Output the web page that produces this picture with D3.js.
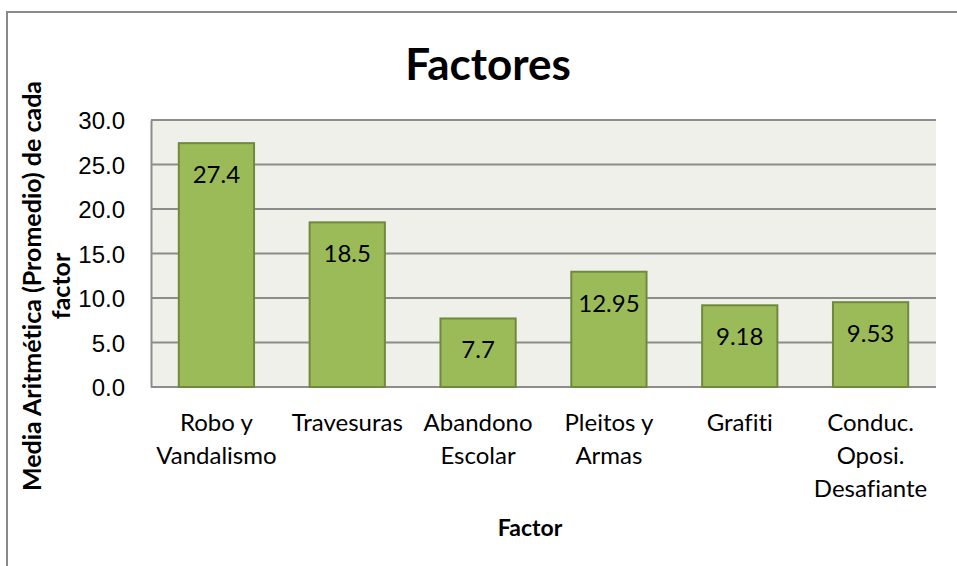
<!DOCTYPE html>
<html>
<head>
<meta charset="utf-8">
<script src="https://cdn.jsdelivr.net/npm/d3@7"></script>
<style>
  body { margin: 0; background: #fff; }
  svg { display: block; font-family: Lato, "Open Sans", sans-serif; font-variant-ligatures: none; }
</style>
</head>
<body>
<div id="chart"></div>
<script>
// chart values
const categories = [
  ["Robo y", "Vandalismo"],
  ["Travesuras"],
  ["Abandono", "Escolar"],
  ["Pleitos y", "Armas"],
  ["Grafiti"],
  ["Conduc.", "Oposi.", "Desafiante"]
];
const values = [27.4, 18.5, 7.7, 12.95, 9.18, 9.53];
const valueLabels = ["27.4", "18.5", "7.7", "12.95", "9.18", "9.53"];
const yTicks = [0, 5, 10, 15, 20, 25, 30];

const width = 957, height = 566;
const plot = { left: 151, top: 120, right: 936, bottom: 387 };
const fs = 24;

const svg = d3.select("#chart").append("svg")
  .attr("width", width)
  .attr("height", height);

// outer frame
svg.append("rect")
  .attr("x", 7).attr("y", 12)
  .attr("width", 980).attr("height", 600)
  .attr("fill", "#fff")
  .attr("stroke", "#8a8a8a")
  .attr("stroke-width", 2);

const x = d3.scaleBand()
  .domain(d3.range(categories.length))
  .range([plot.left, plot.right])
  .paddingInner(0.425)
  .paddingOuter(0.2125);

const y = d3.scaleLinear()
  .domain([0, 30])
  .range([plot.bottom, plot.top]);

svg.append("rect")
  .attr("x", plot.left).attr("y", plot.top)
  .attr("width", plot.right - plot.left)
  .attr("height", plot.bottom - plot.top)
  .attr("fill", "#eef0e9");

// gridlines
svg.append("g")
  .selectAll("line")
  .data(yTicks)
  .join("line")
  .attr("x1", plot.left).attr("x2", plot.right)
  .attr("y1", d => y(d)).attr("y2", d => y(d))
  .attr("stroke", "#8c8c8c")
  .attr("stroke-width", 2);

// y axis
const yAxis = svg.append("g")
  .attr("transform", `translate(${plot.left},0)`)
  .call(d3.axisLeft(y).tickValues(yTicks).tickFormat(d3.format(".1f")).tickSize(0).tickPadding(26));
yAxis.select(".domain")
  .attr("stroke", "#8c8c8c")
  .attr("stroke-width", 2);
yAxis.selectAll("text")
  .attr("font-size", fs)
  .attr("fill", "#000")
  .attr("dy", "0.36em");

// bars
svg.append("g")
  .selectAll("rect")
  .data(values)
  .join("rect")
  .attr("x", (d, i) => x(i))
  .attr("y", d => y(d))
  .attr("width", x.bandwidth())
  .attr("height", d => y(0) - y(d))
  .attr("fill", "#9bbb59")
  .attr("stroke", "#71893f")
  .attr("stroke-width", 2);

// data labels
svg.append("g")
  .selectAll("text")
  .data(values)
  .join("text")
  .attr("x", (d, i) => x(i) + x.bandwidth() / 2)
  .attr("y", d => y(d) + 40)
  .attr("text-anchor", "middle")
  .attr("font-size", fs)
  .attr("fill", "#000")
  .text((d, i) => valueLabels[i]);

// category labels
const cat = svg.append("g")
  .selectAll("text")
  .data(categories)
  .join("text")
  .attr("text-anchor", "middle")
  .attr("font-size", fs)
  .attr("fill", "#000");
cat.selectAll("tspan")
  .data((d, i) => d.map(t => ({ t, i })))
  .join("tspan")
  .attr("x", d => x(d.i) + x.bandwidth() / 2)
  .attr("y", (d, j) => 431 + j * 33)
  .text(d => d.t);

// title
svg.append("text")
  .attr("x", 488).attr("y", 80)
  .attr("text-anchor", "middle")
  .attr("font-size", 44)
  .attr("font-weight", "bold")
  .text("Factores");

// axis titles
svg.append("text")
  .attr("x", 530).attr("y", 536)
  .attr("text-anchor", "middle")
  .attr("font-size", 23)
  .attr("font-weight", "bold")
  .text("Factor");

const yTitle = svg.append("text")
  .attr("transform", "translate(0,286) rotate(-90)")
  .attr("text-anchor", "middle")
  .attr("font-size", 25)
  .attr("font-weight", "bold");
yTitle.append("tspan").attr("x", 0).attr("y", 41).text("Media Aritmética (Promedio) de cada");
yTitle.append("tspan").attr("x", 0).attr("y", 70).text("factor");
</script>
</body>
</html>
